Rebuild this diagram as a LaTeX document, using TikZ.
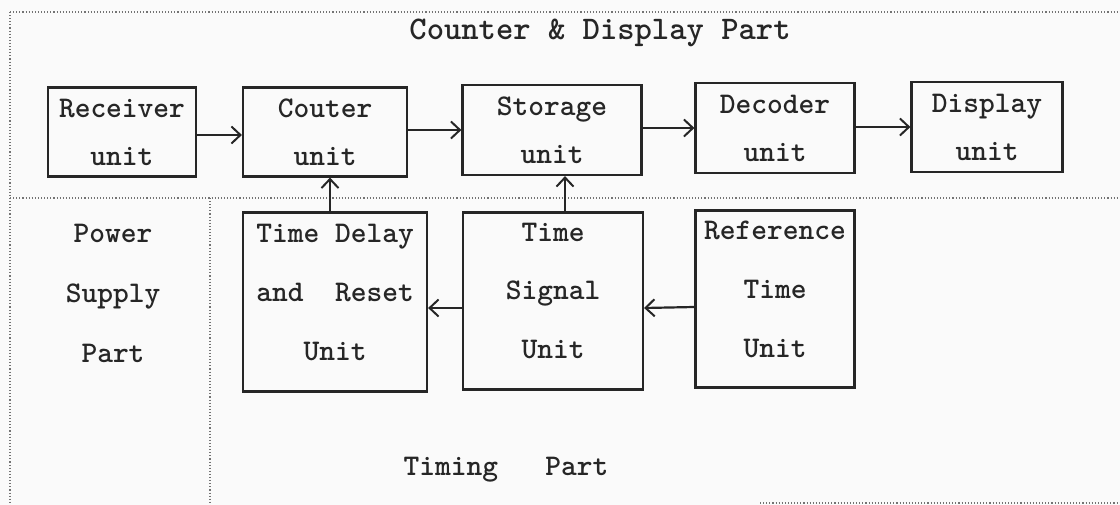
\documentclass[tikz,border=0pt]{standalone}
\usetikzlibrary{arrows.meta,calc}
\begin{document}
\begin{tikzpicture}[x=1pt,y=-1pt,
  box/.style={draw=black!85, line width=2.2pt, inner sep=0pt, align=center,
    text=black!85, font=\fontsize{30}{48}\selectfont\ttfamily\bfseries},
  tallbox/.style={box, font=\fontsize{30}{59}\selectfont\ttfamily\bfseries},
  talltext/.style={inner sep=0pt, align=center, text=black!85, yshift=10pt,
    font=\fontsize{30}{59}\selectfont\ttfamily\bfseries},
  lbl/.style={inner sep=0pt, align=center, text=black!85,
    font=\fontsize{30}{60}\selectfont\ttfamily\bfseries},
  sep/.style={draw=black!55, line width=1.1pt, dotted},
  arr/.style={draw=black!85, line width=2.2pt, -{Straight Barb[length=9pt,width=17pt,line width=2pt]}}
]
\fill[black!2] (0,0) rectangle (1120,505);
\useasboundingbox (0,0) rectangle (1120,505);

% dotted partition lines
\draw[sep] (10,12) -- (1120,12);
\draw[sep] (10,12) -- (10,505);
\draw[sep] (10,198) -- (1120,198);
\draw[sep] (210,198) -- (210,505);
\draw[sep] (760,503) -- (1120,503);

% top row
\node[box, minimum width=148pt, minimum height=89pt] (rec) at (122,132) {Receiver\\unit};
\node[box, minimum width=164pt, minimum height=89pt] (cou) at (325,132) {Couter\\unit};
\node[box, minimum width=179pt, minimum height=90pt] (sto) at (552,130) {Storage\\unit};
\node[box, minimum width=159pt, minimum height=90pt] (dec) at (775,128) {Decoder\\unit};
\node[box, minimum width=151pt, minimum height=90pt] (dis) at (987,127) {Display\\unit};

% bottom row
\node[tallbox, minimum width=184pt, minimum height=179pt,
  label={[talltext]center:Time Delay\\and\ \ Reset\\Unit}] (tdr) at (335,302) {};
\node[tallbox, minimum width=180pt, minimum height=177pt,
  label={[talltext]center:Time\\Signal\\Unit}] (tsu) at (553,301) {};
\node[tallbox, minimum width=159pt, minimum height=177pt,
  label={[talltext]center:Reference\\Time\\Unit}] (ref) at (775,299) {};

% labels
\node[lbl, font=\fontsize{33}{40}\selectfont\ttfamily\bfseries] (cdp) at (600,33) {Counter \& Display Part};
\node[lbl] (psp) at (113,293) {Power\\Supply\\Part};
\node[lbl] (tp) at (506,470) {Timing\ \ \ Part};

% connector end points
\coordinate (tdtop) at ($(tdr.north)+(-5,0)$);
\coordinate (tstop) at ($(tsu.north)+(12,0)$);

% connectors
\draw[arr] ($(rec.east)+(0,3)$) -- ($(cou.west)+(0,3)$);
\draw[arr] (sto.west -| cou.east) -- (sto.west);
\draw[arr] (dec.west -| sto.east) -- (dec.west);
\draw[arr] (dis.west -| dec.east) -- (dis.west);
\draw[arr] (tdtop) -- (tdtop |- cou.south);
\draw[arr] (tstop) -- (tstop |- sto.south);
\draw[arr] ($(tsu.west)+(0,7)$) -- ($(tdr.east)+(0,6)$);
\draw[arr] ($(ref.west)+(0,8)$) -- ($(tsu.east)+(0,7)$);
\end{tikzpicture}
\end{document}
